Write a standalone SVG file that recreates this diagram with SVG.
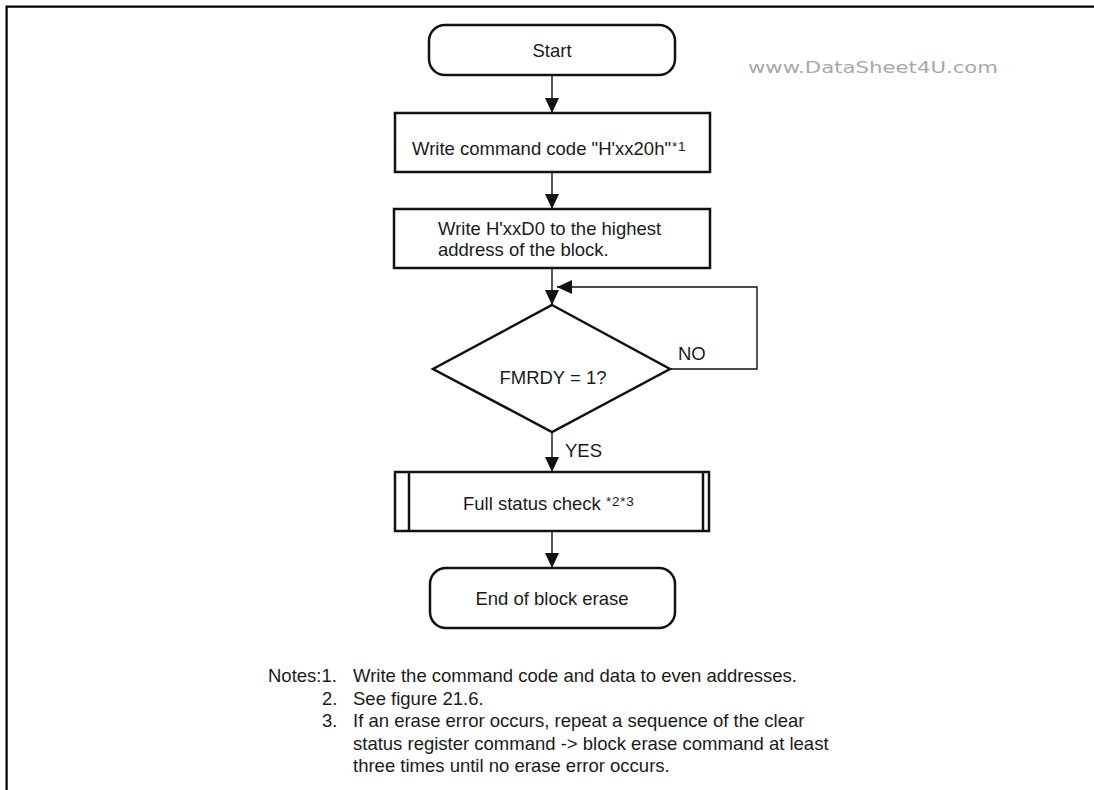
<svg xmlns="http://www.w3.org/2000/svg" width="1094" height="790" viewBox="0 0 1094 790">
<style>
.box{fill:#fff;stroke:#111;stroke-width:2.5}
.conn{fill:none;stroke:#111;stroke-width:1.4}
.t{font-family:"Liberation Sans",Arial,sans-serif;font-size:18.5px;fill:#1a1a1a}
.c{text-anchor:middle}
.sup{font-size:13.5px;letter-spacing:0.8px}
.frame{stroke:#000;stroke-width:2.2;fill:none}
.wm{font-family:"DejaVu Sans","Liberation Sans",sans-serif;font-size:16px;fill:#a8a8a8}
</style>
<defs>
<marker id="arr" markerUnits="userSpaceOnUse" markerWidth="15" markerHeight="14" refX="15" refY="7" orient="auto">
<path d="M0,0 L15,7 L0,14 z" fill="#111"/>
</marker>
</defs>
<g id="frame">
<path class="frame" d="M6.6,790 V6.6 H1094"/>
</g>
<text class="wm" x="748" y="73" textLength="250" lengthAdjust="spacingAndGlyphs">www.DataSheet4U.com</text>
<g id="connectors">
<path class="conn" d="M552,75 V113" marker-end="url(#arr)"/>
<path class="conn" d="M552,172 V209" marker-end="url(#arr)"/>
<path class="conn" d="M552,268 V305" marker-end="url(#arr)"/>
<path class="conn" d="M670,369 H757 V287 H557" marker-end="url(#arr)"/>
<path class="conn" d="M552,432 V472" marker-end="url(#arr)"/>
<path class="conn" d="M552,531 V568" marker-end="url(#arr)"/>
<text class="t" x="678" y="360">NO</text>
<text class="t" x="565" y="457">YES</text>
</g>
<g id="start">
<rect class="box" x="429" y="25" width="246" height="50" rx="16"/>
<text class="t c" x="552" y="57">Start</text>
</g>
<g id="write-cmd">
<rect class="box" x="395" y="113" width="315" height="59"/>
<text class="t" x="412" y="155">Write command code "H'xx20h"<tspan class="sup" dy="-4" dx="1">*1</tspan></text>
</g>
<g id="write-d0">
<rect class="box" x="394" y="209" width="316" height="59"/>
<text class="t" x="438" y="235">Write H'xxD0 to the highest</text>
<text class="t" x="438" y="256">address of the block.</text>
</g>
<g id="decision">
<polygon class="box" points="552,305 670,369 552,432 433,369"/>
<text class="t c" x="553" y="384">FMRDY = 1?</text>
</g>
<g id="full-status">
<rect class="box" x="395" y="472" width="314" height="59"/>
<line class="box" x1="409" y1="472" x2="409" y2="531"/>
<line class="box" x1="703" y1="472" x2="703" y2="531"/>
<text class="t" x="463" y="510">Full status check <tspan class="sup" dy="-4">*2*3</tspan></text>
</g>
<g id="end">
<rect class="box" x="430" y="568" width="245" height="60" rx="16"/>
<text class="t c" x="552" y="605">End of block erase</text>
</g>
<g id="notes">
<text class="t" x="268" y="682">Notes:1.</text>
<text class="t" x="353" y="682">Write the command code and data to even addresses.</text>
<text class="t" x="322" y="704.5">2.</text>
<text class="t" x="353" y="704.5">See figure 21.6.</text>
<text class="t" x="322" y="727">3.</text>
<text class="t" x="353" y="727">If an erase error occurs, repeat a sequence of the clear</text>
<text class="t" x="353" y="749.5">status register command -&gt; block erase command at least</text>
<text class="t" x="353" y="772">three times until no erase error occurs.</text>
</g>
</svg>
